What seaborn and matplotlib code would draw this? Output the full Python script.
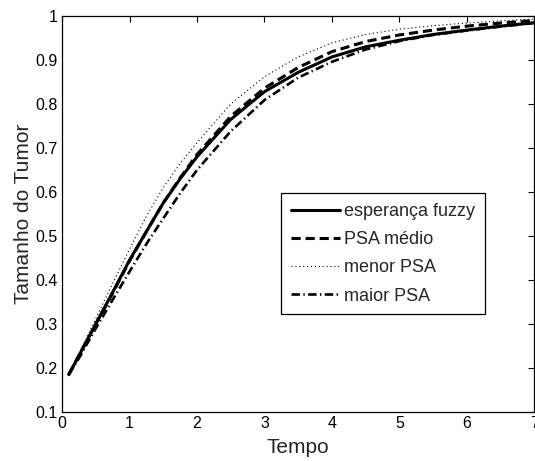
import numpy as np
import pandas as pd
import seaborn as sns
import matplotlib
matplotlib.use("Agg")
import matplotlib.pyplot as plt

# values
tempo = [0.1, 0.25, 0.5, 0.75, 1.0, 1.25, 1.5, 1.75, 2.0, 2.5, 3.0, 3.5, 4.0, 4.5, 5.0, 5.5, 6.0, 6.5, 7.0]
esperanca_fuzzy = [0.185, 0.228, 0.300, 0.372, 0.445, 0.510, 0.575, 0.630, 0.680, 0.765, 0.828, 0.872, 0.907, 0.930, 0.945, 0.958, 0.968, 0.977, 0.985]
psa_medio = [0.185, 0.228, 0.300, 0.370, 0.443, 0.510, 0.575, 0.632, 0.685, 0.772, 0.836, 0.883, 0.919, 0.942, 0.957, 0.968, 0.977, 0.984, 0.990]
menor_psa = [0.185, 0.232, 0.312, 0.392, 0.470, 0.545, 0.610, 0.665, 0.712, 0.800, 0.862, 0.907, 0.939, 0.958, 0.970, 0.978, 0.984, 0.989, 0.993]
maior_psa = [0.185, 0.222, 0.290, 0.355, 0.419, 0.482, 0.540, 0.597, 0.650, 0.738, 0.809, 0.860, 0.896, 0.924, 0.943, 0.957, 0.967, 0.976, 0.984]

nomes = ["esperança fuzzy", "PSA médio", "menor PSA", "maior PSA"]
xticks = [0, 1, 2, 3, 4, 5, 6, 7]
yticks = [0.1, 0.2, 0.3, 0.4, 0.5, 0.6, 0.7, 0.8, 0.9, 1.0]
ytick_labels = ["0.1", "0.2", "0.3", "0.4", "0.5", "0.6", "0.7", "0.8", "0.9", "1"]

sns.set_style("white")
plt.rcParams["font.family"] = ["Liberation Sans", "DejaVu Sans"]

estilos = {
    "esperança fuzzy": dict(linestyle="-", lw=2.2),
    "PSA médio": dict(linestyle=(0, (3, 1.6)), lw=2.2),
    "menor PSA": dict(linestyle=(0, (1, 2.5)), lw=0.8),
    "maior PSA": dict(linestyle=(0, (3.2, 1.3, 0.5, 1.3)), lw=1.9),
}

fig = plt.figure(figsize=(5.35, 4.61), dpi=100)
ax = fig.add_axes([0.1159, 0.1063, 0.8831, 0.859])

for nome, serie in zip(nomes, [esperanca_fuzzy, psa_medio, menor_psa, maior_psa]):
    df = pd.DataFrame({"Tempo": tempo, "v": serie})
    sns.lineplot(data=df, x="Tempo", y="v", ax=ax, color="black", label=nome, **estilos[nome])

ax.set_xlim(0, 7)
ax.set_ylim(0.1, 1)
ax.set_xticks(xticks)
ax.set_yticks(yticks)
ax.set_yticklabels(ytick_labels)
ax.tick_params(direction="in", length=4, width=0.8, top=True, right=True,
               labelsize=11.5, colors="black", pad=3)
for s in ax.spines.values():
    s.set_color("black")
    s.set_linewidth(0.9)

ax.set_xlabel("Tempo", fontsize=15, labelpad=5)
ax.set_ylabel("Tamanho do Tumor", fontsize=15, labelpad=2)

leg = ax.legend(loc="upper left", bbox_to_anchor=(0.464, 0.553), fontsize=13,
                handlelength=2.7, handletextpad=0.25, borderpad=0.55, labelspacing=0.62,
                frameon=True, fancybox=False, edgecolor="black", framealpha=1,
                borderaxespad=0)
leg.get_frame().set_linewidth(0.9)

fig.savefig("out.png", dpi=100)
